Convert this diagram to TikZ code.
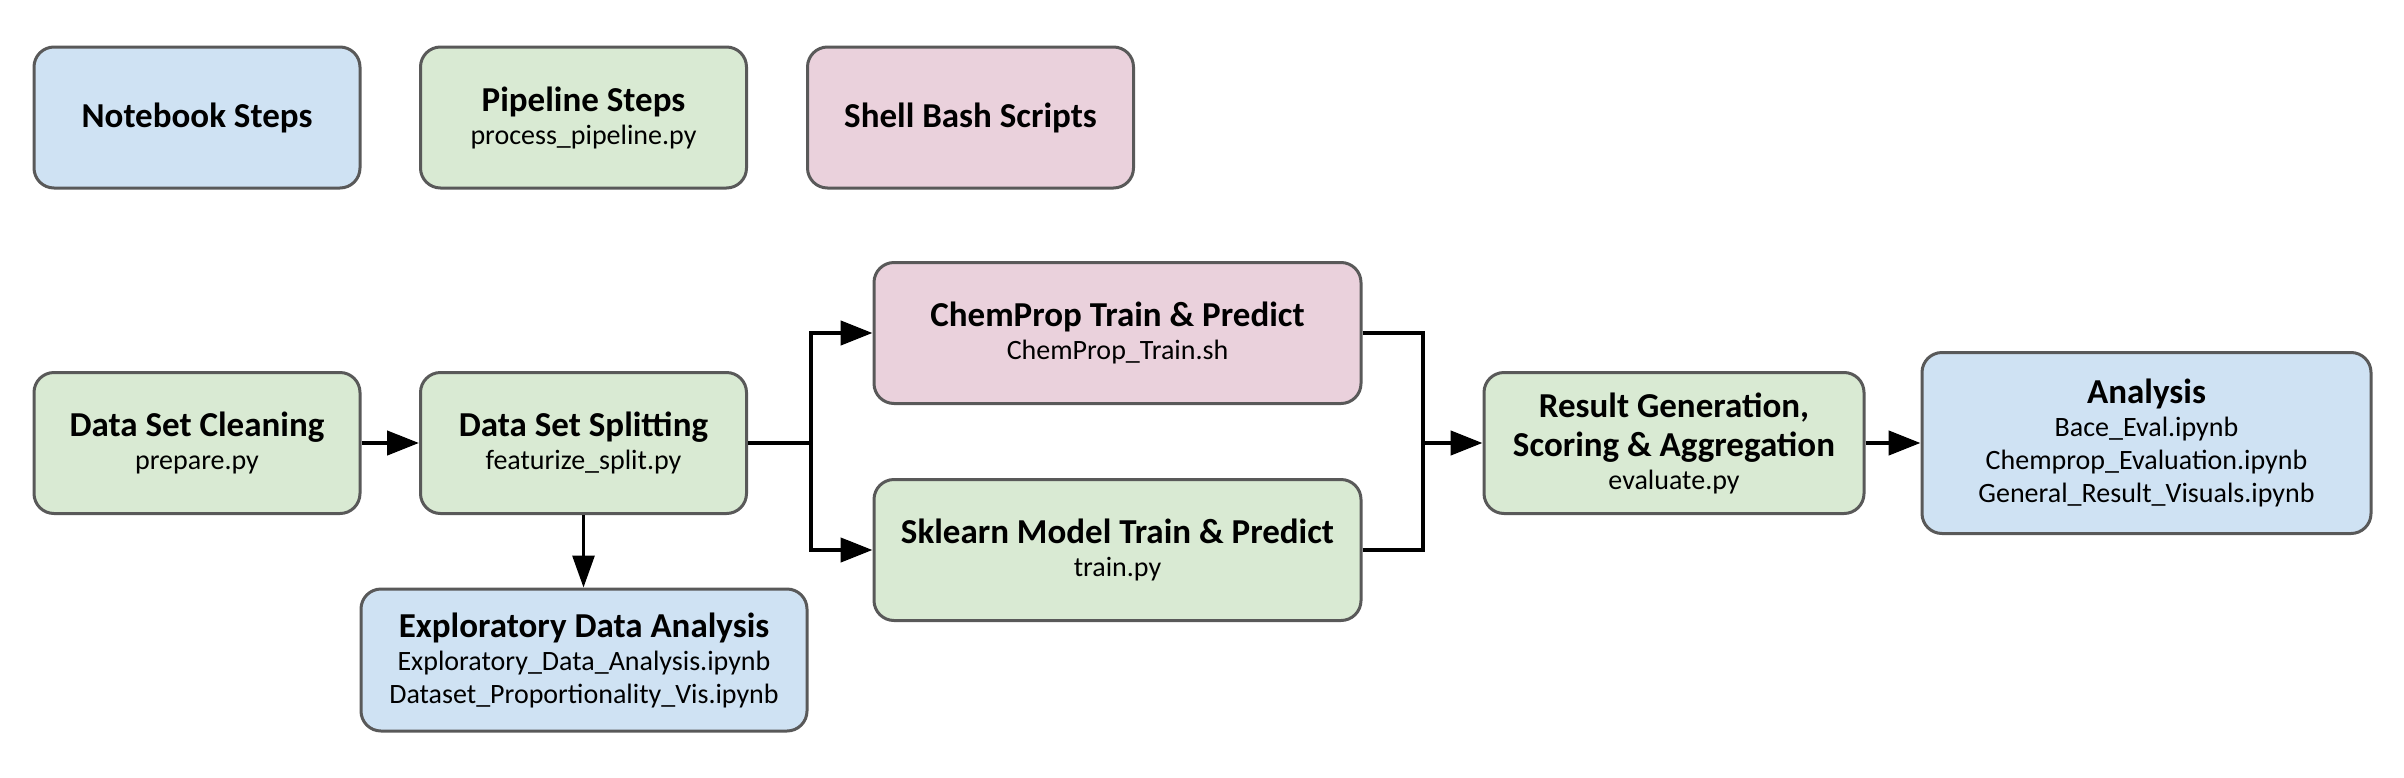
\documentclass[tikz,border=0pt]{standalone}
\usepackage{fontspec}
\setmainfont{Carlito}
\usetikzlibrary{arrows.meta}

\definecolor{nbblue}{HTML}{CFE2F3}
\definecolor{plgreen}{HTML}{D9EAD3}
\definecolor{shpink}{HTML}{EAD1DC}
\definecolor{edgegray}{HTML}{595959}

\newcommand{\titlefont}{\fontsize{35}{41}\selectfont\bfseries}
\newcommand{\subfont}{\fontsize{28}{33}\selectfont\mdseries}

\begin{document}
\begin{tikzpicture}[x=1pt, y=-1pt,
		stepbox/.style={draw=edgegray, line width=3pt, rounded corners=20pt, align=center, inner sep=0pt, font=\subfont, minimum width=326pt, minimum height=141pt},
		link/.style={line width=4.5pt},
		flow/.style={-{Triangle[length=32pt, width=24pt]}, line width=4.5pt},
		thinflow/.style={-{Triangle[length=32pt, width=22pt]}, line width=3pt}]
	\useasboundingbox (0, 0) rectangle (2404, 777);
	
	% Legend (top row)
	\node[stepbox, fill=nbblue] (notebook) at (197, 117.5) {\titlefont Notebook Steps};
	\node[stepbox, fill=plgreen] (pipeline) at (583.5, 117.5) {\titlefont Pipeline Steps\\\subfont process\_pipeline.py};
	\node[stepbox, fill=shpink] (shell) at (970.5, 117.5) {\titlefont Shell Bash Scripts};
	
	% Preparation
	\node[stepbox, fill=plgreen] (cleaning) at (197, 443) {\titlefont Data Set Cleaning\\\subfont prepare.py};
	\node[stepbox, fill=plgreen] (splitting) at (583.5, 443) {\titlefont Data Set Splitting\\\subfont featurize\_split.py};
	\node[stepbox, fill=nbblue, minimum width=446pt, minimum height=142pt] (eda) at (584, 660) {\titlefont Exploratory Data Analysis\\\subfont Exploratory\_Data\_Analysis.ipynb\\\subfont Dataset\_Proportionality\_Vis.ipynb};
	
	% Models
	\node[stepbox, fill=shpink, minimum width=487pt] (chemprop) at (1117.5, 333) {\titlefont ChemProp Train \& Predict\\\subfont ChemProp\_Train.sh};
	\node[stepbox, fill=plgreen, minimum width=487pt] (sklearn) at (1117.5, 550) {\titlefont Sklearn Model Train \& Predict\\\subfont train.py};
	
	% Results
	\node[stepbox, fill=plgreen, minimum width=380pt] (results) at (1674, 443) {\titlefont Result Generation,\\[6pt]\titlefont Scoring \& Aggregation\\\subfont evaluate.py};
	\node[stepbox, fill=nbblue, minimum width=449pt, minimum height=181pt] (analysis) at (2146.5, 443) {\titlefont Analysis\\\subfont Bace\_Eval.ipynb\\\subfont Chemprop\_Evaluation.ipynb\\\subfont General\_Result\_Visuals.ipynb};
	
	\coordinate (fork) at (811, 443);
	\coordinate (join) at (1423, 443);
	
	\draw[flow] (cleaning) -- (splitting);
	\draw[thinflow] (splitting.south) -- (splitting.south |- eda.north);
	
	% Split into the two models
	\draw[link] (splitting) -- (fork);
	\draw[flow] (fork) |- (chemprop);
	\draw[flow] (fork) |- (sklearn);
	
	% Back together
	\draw[link] (chemprop) -| (join);
	\draw[link] (sklearn) -| (join);
	\draw[flow] (join) -- (results);
	\draw[flow] (results) -- (analysis);
	
\end{tikzpicture}
\end{document}
